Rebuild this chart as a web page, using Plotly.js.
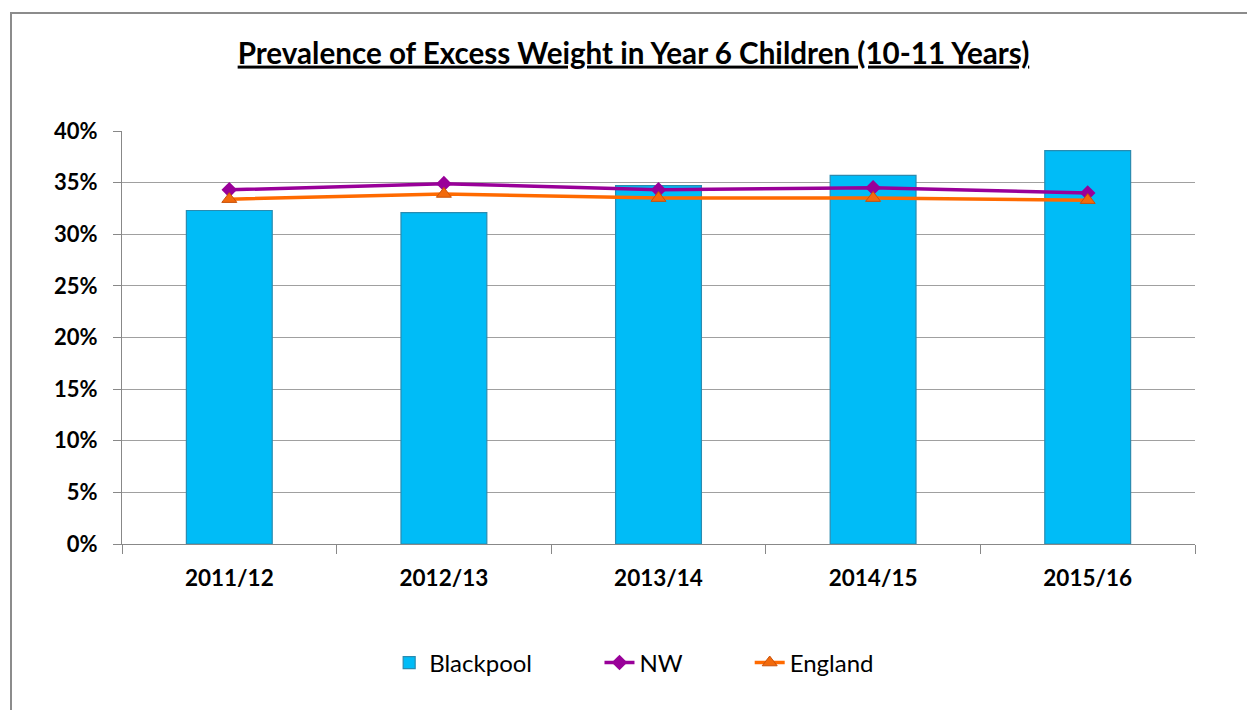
<!DOCTYPE html>
<html>
<head>
<meta charset="utf-8">
<script src="https://cdn.plot.ly/plotly-3.0.1.min.js"></script>
<style>
  html, body { margin: 0; padding: 0; background: #fff; }
  #chart { width: 1247px; height: 710px; }
  #frame {
    position: absolute; left: 10px; top: 12px; width: 1300px; height: 800px;
    border-left: 2px solid #8c8c8c; border-top: 2px solid #8c8c8c;
    pointer-events: none;
  }
</style>
</head>
<body>
<div id="chart"></div>
<div id="frame"></div>
<script>
// School years
const years = ['2011/12', '2012/13', '2013/14', '2014/15', '2015/16'];
// Excess weight prevalence, Year 6 (%)
const blackpool = [32.3, 32.1, 34.7, 35.7, 38.1];
const northWest = [34.3, 34.9, 34.3, 34.5, 34.0];
const england   = [33.4, 33.9, 33.5, 33.5, 33.3];
// Y-axis ticks
const yTicks = [0, 5, 10, 15, 20, 25, 30, 35, 40];
const yTickLabels = yTicks.map(v => v + '%');

const font = 'Lato, "Open Sans", sans-serif';
const legendFont = { family: font, size: 24, color: '#000' };

const traces = [
  {
    type: 'bar', name: 'Blackpool', x: years, y: blackpool, legend: 'legend',
    marker: { color: '#00bcf7', line: { color: '#2a8bb0', width: 1.2 } },
    hoverinfo: 'x+y'
  },
  {
    type: 'scatter', mode: 'lines+markers', name: 'NW', x: years, y: northWest, legend: 'legend2',
    line: { color: '#990099', width: 3.5 },
    marker: { symbol: 'diamond', size: 12, color: '#990099' }
  },
  {
    type: 'scatter', mode: 'lines+markers', name: 'England', x: years, y: england, legend: 'legend3',
    line: { color: '#ff6a00', width: 3.5 },
    marker: { symbol: 'triangle-up', size: 13, color: '#f26a0c', line: { color: '#c9520a', width: 1 } }
  }
];

// one legend box per series, spaced along the bottom
const legendBox = (x) => ({
  orientation: 'h', x: x, xanchor: 'left', y: -0.288, yanchor: 'middle',
  font: legendFont, bgcolor: 'rgba(0,0,0,0)'
});

const layout = {
  width: 1247, height: 710,
  paper_bgcolor: '#ffffff', plot_bgcolor: '#ffffff',
  margin: { l: 122, r: 52, t: 131, b: 166 },
  font: { family: font, color: '#000' },
  title: {
    text: '<u><b>Prevalence of Excess Weight in Year 6 Children (10-11 Years)</b></u>',
    font: { family: font, size: 29.6, color: '#000' },
    x: 0.508, xanchor: 'center', y: 0.925, yanchor: 'middle'
  },
  bargap: 0.6,
  showlegend: true,
  legend: legendBox(0.249),
  legend2: legendBox(0.445),
  legend3: legendBox(0.585),
  xaxis: {
    type: 'category',
    showgrid: false,
    showline: true, linecolor: '#888', linewidth: 1,
    ticks: 'outside', tickson: 'boundaries', ticklen: 9, tickcolor: '#888',
    tickfont: { family: font, size: 22.5, color: '#000', weight: 'bold' },
    ticklabelstandoff: 14
  },
  yaxis: {
    range: [0, 40],
    tickvals: yTicks, ticktext: yTickLabels,
    showgrid: true, gridcolor: '#a0a0a0', gridwidth: 1,
    showline: true, linecolor: '#888', linewidth: 1,
    ticks: 'outside', ticklen: 8, tickcolor: '#888',
    tickfont: { family: font, size: 22, color: '#000', weight: 'bold' },
    ticklabelstandoff: 11,
    zeroline: false
  }
};

Plotly.newPlot('chart', traces, layout, { displayModeBar: false, staticPlot: true });
</script>
</body>
</html>
